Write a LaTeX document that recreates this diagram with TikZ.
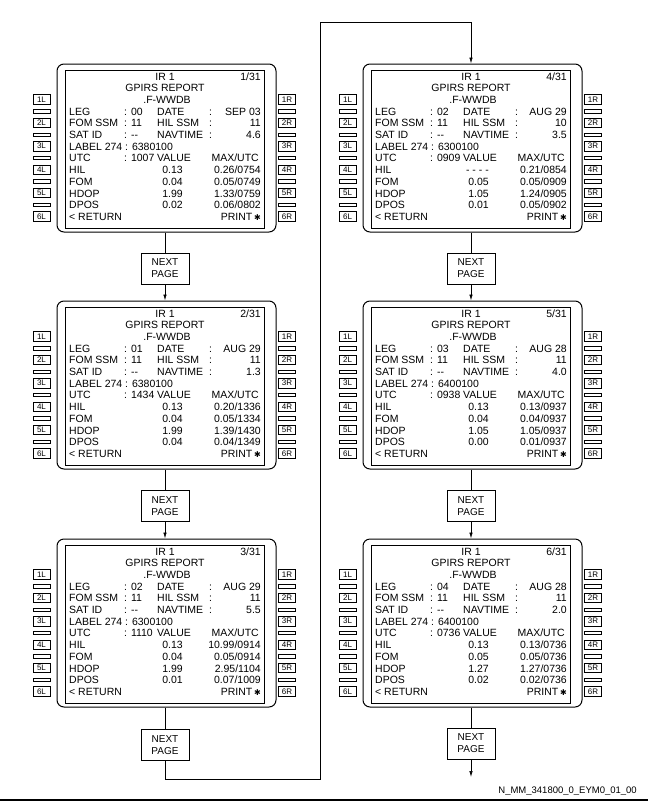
\documentclass[tikz,border=0pt]{standalone}
\usepackage{fontspec}
\setmainfont{Liberation Sans}
\newfontfamily\symfont{DejaVu Sans}
\usetikzlibrary{arrows.meta}
\tikzset{
 frame/.style={draw, line width=1pt, rounded corners=7pt, minimum width=219pt, minimum height=168pt, inner sep=0pt},
 screen/.style={draw, line width=0.8pt, minimum width=199pt, minimum height=158pt, inner sep=0pt},
 key/.style={draw, line width=0.6pt, minimum width=17pt, minimum height=9.5pt, inner sep=0pt, font=\fontsize{8}{8}\selectfont},
 bar/.style={draw, line width=0.5pt, minimum width=17pt, minimum height=3.5pt, inner sep=0pt},
 txt/.style={anchor=base west, inner sep=0pt, font=\fontsize{10.5}{12}\selectfont},
 txtr/.style={txt, anchor=base east},
 txtc/.style={txt, anchor=base},
 nextbox/.style={draw, line width=0.8pt, minimum width=48pt, minimum height=31pt, align=center, inner sep=0pt, font=\fontsize{10}{12}\selectfont},
 link/.style={line width=0.7pt},
 arr/.style={link, -{Latex[length=6pt,width=3.5pt]}},
}
\newcommand\PFrame[2]{%
 \node[frame] (#1) at (166.5,148) {};
 \node[screen] (#1-scr) at (164.5,149) {};
 \foreach \i in {1,...,6}{
   \node[key] (#1-L\i) at (41.5,{99.4+23.4*(\i-1)}) {\i L};
   \node[key] (#1-R\i) at (287,{99.4+23.4*(\i-1)}) {\i R};
 }
 \foreach \i in {1,...,5}{
   \node[bar] (#1-bl\i) at (41.5,{111.1+23.4*(\i-1)}) {};
   \node[bar] (#1-br\i) at (287,{111.1+23.4*(\i-1)}) {};
 }
 \node[txtc] (#1-ir) at (165,80) {IR 1};
 \node[txtr] (#1-pg) at (261,80) {#2/31};
 \node[txtc] (#1-title) at (165,91.7) {GPIRS REPORT};
 \node[txtc] (#1-reg) at (167,103.4) {.F-WWDB};
 \node[txt] (#1-ret) at (69,220.4) {< RETURN};
 \node[txtr] (#1-prt) at (261,220.4) {PRINT\,{\symfont\fontsize{8}{8}\selectfont ✱}};
}
\newcommand\PHead[7]{%
 \node[txt] (#1-leg) at (69,115.1) {LEG};
 \node[txt] (#1-legv) at (124,115.1) {: #2};
 \node[txt] (#1-date) at (157,115.1) {DATE};
 \node[txt] (#1-dc) at (209,115.1) {:};
 \node[txtr] (#1-datev) at (261,115.1) {#3};
 \node[txt] (#1-fom) at (69,126.8) {FOM SSM};
 \node[txt] (#1-fomv) at (124,126.8) {: 11};
 \node[txt] (#1-hil) at (157,126.8) {HIL SSM};
 \node[txt] (#1-hc) at (209,126.8) {:};
 \node[txtr] (#1-hilv) at (261,126.8) {#4};
 \node[txt] (#1-sat) at (69,138.5) {SAT ID};
 \node[txt] (#1-satv) at (124,138.5) {: -{}-};
 \node[txt] (#1-nav) at (157,138.5) {NAVTIME};
 \node[txt] (#1-nc) at (209,138.5) {:};
 \node[txtr] (#1-navv) at (261,138.5) {#5};
 \node[txt] (#1-lab) at (69,150.2) {LABEL 274 : #6};
 \node[txt] (#1-utc) at (69,161.9) {UTC};
 \node[txt] (#1-utcv) at (124,161.9) {: #7};
 \node[txt] (#1-val) at (157,161.9) {VALUE};
 \node[txtr] (#1-max) at (259,161.9) {MAX/UTC};
}
\newcommand\PRows[9]{%
 \node[txt] (#1-r1) at (69,173.6) {HIL};
 \node[txtr] (#1-v1) at (183,173.6) {#2};
 \node[txtr] (#1-m1) at (261,173.6) {#3};
 \node[txt] (#1-r2) at (69,185.3) {FOM};
 \node[txtr] (#1-v2) at (183,185.3) {#4};
 \node[txtr] (#1-m2) at (261,185.3) {#5};
 \node[txt] (#1-r3) at (69,197) {HDOP};
 \node[txtr] (#1-v3) at (183,197) {#6};
 \node[txtr] (#1-m3) at (261,197) {#7};
 \node[txt] (#1-r4) at (69,208.7) {DPOS};
 \node[txtr] (#1-v4) at (183,208.7) {#8};
 \node[txtr] (#1-m4) at (261,208.7) {#9};
}
\begin{document}
\begin{tikzpicture}[x=1pt,y=-1pt]
\useasboundingbox (0,0) rectangle (648,803);
% left column
\begin{scope}[shift={(0,0)}]
 \PFrame{p1}{1}
 \PHead{p1}{00}{SEP 03}{11}{4.6}{6380100}{1007}
 \PRows{p1}{0.13}{0.26/0754}{0.04}{0.05/0749}{1.99}{1.33/0759}{0.02}{0.06/0802}
\end{scope}
\begin{scope}[shift={(0,237)}]
 \PFrame{p2}{2}
 \PHead{p2}{01}{AUG 29}{11}{1.3}{6380100}{1434}
 \PRows{p2}{0.13}{0.20/1336}{0.04}{0.05/1334}{1.99}{1.39/1430}{0.04}{0.04/1349}
\end{scope}
\begin{scope}[shift={(0,475)}]
 \PFrame{p3}{3}
 \PHead{p3}{02}{AUG 29}{11}{5.5}{6300100}{1110}
 \PRows{p3}{0.13}{10.99/0914}{0.04}{0.05/0914}{1.99}{2.95/1104}{0.01}{0.07/1009}
\end{scope}
% right column
\begin{scope}[shift={(306,0)}]
 \PFrame{p4}{4}
 \PHead{p4}{02}{AUG 29}{10}{3.5}{6300100}{0909}
 \PRows{p4}{- - - -}{0.21/0854}{0.05}{0.05/0909}{1.05}{1.24/0905}{0.01}{0.05/0902}
\end{scope}
\begin{scope}[shift={(306,237)}]
 \PFrame{p5}{5}
 \PHead{p5}{03}{AUG 28}{11}{4.0}{6400100}{0938}
 \PRows{p5}{0.13}{0.13/0937}{0.04}{0.04/0937}{1.05}{1.05/0937}{0.00}{0.01/0937}
\end{scope}
\begin{scope}[shift={(306,475)}]
 \PFrame{p6}{6}
 \PHead{p6}{04}{AUG 28}{11}{2.0}{6400100}{0736}
 \PRows{p6}{0.13}{0.13/0736}{0.05}{0.05/0736}{1.27}{1.27/0736}{0.02}{0.02/0736}
\end{scope}
% next page boxes
\node[nextbox] (n1) at (165,268.5) {NEXT\\PAGE};
\node[nextbox] (n2) at (165,506) {NEXT\\PAGE};
\node[nextbox] (n3) at (165,745) {NEXT\\PAGE};
\node[nextbox] (n4) at (471,268.5) {NEXT\\PAGE};
\node[nextbox] (n5) at (471,506) {NEXT\\PAGE};
\node[nextbox] (n6) at (471,743.5) {NEXT\\PAGE};
% connectors
\draw[link] (n1 |- p1.south) -- (n1.north);
\draw[arr] (n1.south) -- (n1 |- p2.north);
\draw[link] (n2 |- p2.south) -- (n2.north);
\draw[arr] (n2.south) -- (n2 |- p3.north);
\draw[link] (n3 |- p3.south) -- (n3.north);
\draw[link] (n4 |- p4.south) -- (n4.north);
\draw[arr] (n4.south) -- (n4 |- p5.north);
\draw[link] (n5 |- p5.south) -- (n5.north);
\draw[arr] (n5.south) -- (n5 |- p6.north);
\draw[link] (n6 |- p6.south) -- (n6.north);
\coordinate (lb) at (320,779);
\coordinate (lt) at (320,22);
\draw[arr] (n3.south) |- (lb) -- (lt) -| (n4 |- p4.north);
\coordinate (endc) at (471,777);
\draw[arr] (n6.south) -- (endc);
% footer
\node[anchor=base east, inner sep=0pt, font=\fontsize{9.5}{10}\selectfont] (foot) at (637,793) {N\_MM\_341800\_0\_EYM0\_01\_00};
\coordinate (rl) at (0,800);
\coordinate (rr) at (648,800);
\draw[line width=1.3pt] (rl) -- (rr);
\end{tikzpicture}
\end{document}
